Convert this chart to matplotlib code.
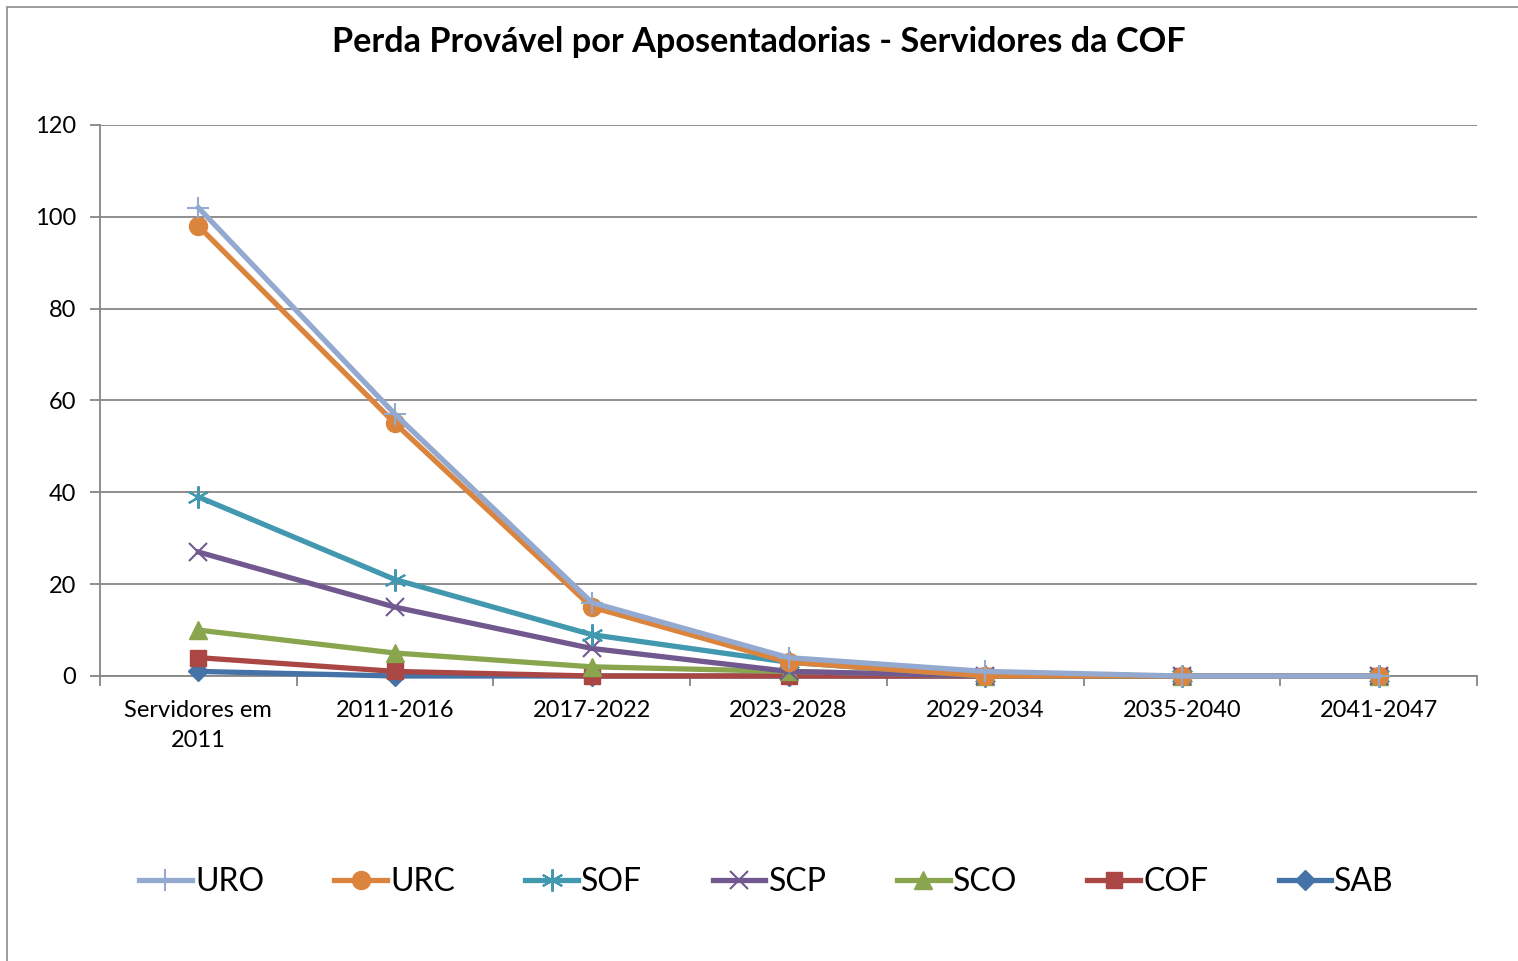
import matplotlib.pyplot as plt
from matplotlib.patches import Rectangle
import numpy as np

# Categories and series
categories = ["Servidores em\n2011", "2011-2016", "2017-2022", "2023-2028",
              "2029-2034", "2035-2040", "2041-2047"]
series_names = ["URO", "URC", "SOF", "SCP", "SCO", "COF", "SAB"]
uro = [102, 57, 16, 4, 1, 0, 0]
urc = [98, 55, 15, 3, 0, 0, 0]
sof = [39, 21, 9, 3, 0, 0, 0]
scp = [27, 15, 6, 1, 0, 0, 0]
sco = [10, 5, 2, 1, 0, 0, 0]
cof = [4, 1, 0, 0, 0, 0, 0]
sab = [1, 0, 0, 0, 0, 0, 0]
yticks = [0, 20, 40, 60, 80, 100, 120]

colors = ["#93A9CF", "#DB843D", "#4198AF", "#71588F", "#89A54E", "#AA4643", "#4572A7"]
markers = ["+", "o", (6, 2, 0), "x", "^", "s", "D"]
msizes = [16, 13, 16, 13, 13, 12, 10]

plt.rcParams['font.family'] = ['Lato', 'DejaVu Sans']

fig = plt.figure(figsize=(15.18, 9.61), dpi=100)
fig.patches.append(Rectangle((7 / 1518, -0.01), 1.02, 1 - 7 / 961 + 0.01,
                             transform=fig.transFigure, fill=False,
                             edgecolor="#8c8c8c", linewidth=1.2))

ax = fig.add_axes([100 / 1518, 1 - 676 / 961, 1377 / 1518, 551 / 961])
x = np.arange(len(categories))
data = [uro, urc, sof, scp, sco, cof, sab]

lines = []
for i, (name, vals) in enumerate(zip(series_names, data)):
    ln, = ax.plot(x, vals, color=colors[i], linewidth=3.8, marker=markers[i],
                  markersize=msizes[i], markeredgewidth=1.5 if i in (0, 2, 3) else 1,
                  markeredgecolor=colors[i], markerfacecolor=colors[i],
                  label=name, zorder=10 - i, clip_on=False)
    lines.append(ln)

ax.set_xlim(-0.5, len(categories) - 0.5)
ax.set_ylim(0, 120)
ax.set_yticks(yticks)
ax.yaxis.grid(True, color="#868686", linewidth=1.3)
ax.set_axisbelow(True)

ax.set_xticks(x)
ax.set_xticklabels(categories, fontsize=17, linespacing=1.55)
ax.set_xticks(np.arange(len(categories) + 1) - 0.5, minor=True)
ax.tick_params(axis="x", which="major", length=0, pad=17)
ax.tick_params(axis="x", which="minor", length=7, width=1.3, color="#868686", direction="out")
ax.tick_params(axis="y", length=7, width=1.3, color="#868686", labelsize=17, pad=10)

for side in ("top", "right"):
    ax.spines[side].set_visible(False)
for side in ("left", "bottom"):
    ax.spines[side].set_color("#868686")
    ax.spines[side].set_linewidth(1.3)

fig.text(0.5, 1 - 42 / 961, "Perda Provável por Aposentadorias - Servidores da COF",
         ha="center", va="center", fontsize=24.7, fontweight="bold")

fig.legend(handles=lines, loc="center", bbox_to_anchor=(0.505, 1 - 882 / 961),
           ncol=7, frameon=False, fontsize=23, handlelength=1.65, handletextpad=0.1,
           columnspacing=2.2, borderaxespad=0)

fig.savefig("out.png", dpi=100)
